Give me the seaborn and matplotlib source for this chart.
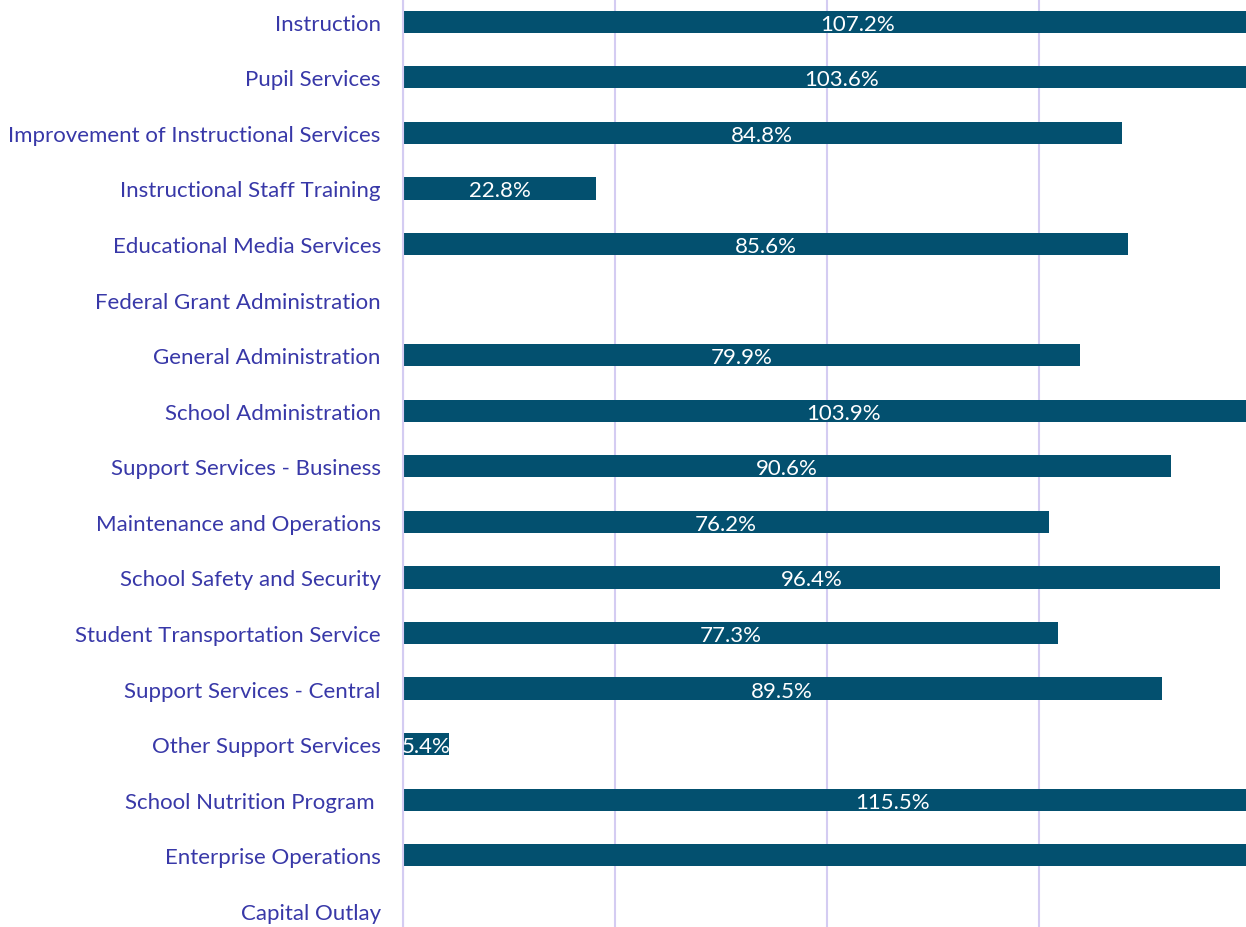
import matplotlib
matplotlib.use("Agg")
import matplotlib.pyplot as plt
import seaborn as sns
import pandas as pd
import numpy as np

categories = [
    "Instruction", "Pupil Services", "Improvement of Instructional Services",
    "Instructional Staff Training", "Educational Media Services",
    "Federal Grant Administration", "General Administration",
    "School Administration", "Support Services - Business",
    "Maintenance and Operations", "School Safety and Security",
    "Student Transportation Service", "Support Services - Central",
    "Other Support Services", "School Nutrition Program ",
    "Enterprise Operations", "Capital Outlay",
]
values = [1.072, 1.036, 0.848, 0.228, 0.856, np.nan, 0.799, 1.039, 0.906,
          0.762, 0.964, 0.773, 0.895, 0.054, 1.155, 2.50, np.nan]
labels = ["107.2%", "103.6%", "84.8%", "22.8%", "85.6%", "", "79.9%", "103.9%",
          "90.6%", "76.2%", "96.4%", "77.3%", "89.5%", "5.4%", "115.5%", "", ""]

df = pd.DataFrame({"category": categories, "value": values})

sns.set_style("white")
plt.rcParams["font.family"] = ["Lato", "DejaVu Sans"]

fig = plt.figure(figsize=(12.46, 9.28), dpi=100)
ax = fig.add_axes([403 / 1246, 0, 1 - 403 / 1246, 1])

bar_color = "#03506F"
sns.barplot(data=df, y="category", x="value", orient="h", color=bar_color,
            width=0.4, ax=ax, saturation=1, linewidth=0)

ax.set_xticks([0, 0.25, 0.5, 0.75, 1.0])
ax.set_xlim(0, 0.9947)
ax.set_ylim(16.29, -0.41)
ax.xaxis.grid(True, color="#D4CCF2", linewidth=1.5)
ax.set_axisbelow(True)
for s in ["top", "right", "bottom"]:
    ax.spines[s].set_visible(False)
ax.spines["left"].set_color("#D4CCF2")
ax.spines["left"].set_linewidth(1.5)
ax.set_xlabel("")
ax.set_ylabel("")
ax.tick_params(axis="x", bottom=False, labelbottom=False)
ax.tick_params(axis="y", left=False, pad=12.5, labelsize=16, labelcolor="#3838A8")

for i, (v, lab) in enumerate(zip(values, labels)):
    if lab and not np.isnan(v):
        ax.text(v / 2, i, lab, ha="center", va="center_baseline", color="white",
                fontsize=16, clip_on=False)

fig.savefig("out.png", dpi=100)
